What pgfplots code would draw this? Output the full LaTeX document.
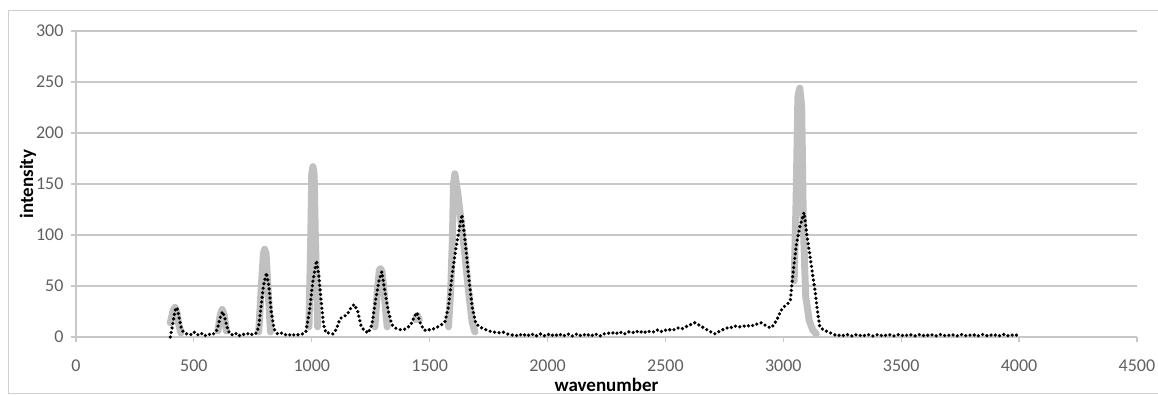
\documentclass[border=0pt]{standalone}
\usepackage{pgfplots}
\pgfplotsset{compat=1.18}
\usepackage{fontspec}
\setmainfont{Carlito}
\definecolor{gridgray}{HTML}{C8C8C8}
\definecolor{ticktext}{HTML}{606060}
\definecolor{peakgray}{HTML}{C0C0C0}
\definecolor{framegray}{HTML}{D0D0D0}
\begin{document}
\begin{tikzpicture}[x=1pt,y=1pt]
\useasboundingbox (0,0) rectangle (1158,-394);
\draw[framegray, line width=1pt] (8,-10) rectangle (1180,-393);
\begin{axis}[
  at={(76pt,-337pt)}, anchor=south west,
  scale only axis, width=1061pt, height=306pt,
  xmin=0, xmax=4500, ymin=0, ymax=300,
  xtick={0,500,...,4500}, ytick={0,50,...,300},
  axis lines=left, axis line style={-, gridgray, line width=1.2pt},
  tick align=outside, major tick length=5pt,
  tick style={gridgray, line width=1.2pt},
  ymajorgrids, grid style={gridgray, line width=1.4pt},
  /pgf/number format/assume math mode=true,
  /pgf/number format/1000 sep={},
  tick label style={font=\fontsize{18}{20}\selectfont, text=ticktext},
  xticklabel style={yshift=-14pt},
  yticklabel style={xshift=-4pt},
  xlabel={\textbf{wavenumber}}, ylabel={\textbf{intensity}},
  label style={font=\fontsize{19}{21}\selectfont},
  xlabel style={yshift=0pt},
  ylabel style={yshift=-7pt},
  clip=false,
  unbounded coords=jump,
]
\addplot[peakgray, line width=7pt, line cap=round, line join=round] coordinates {
(400,14) (412,26) (420,29) (428,24) (436,12) (445,4) (450,nan)
(602,6) (612,22) (620,27) (628,22) (638,6) (645,nan)
(775,5) (785,45) (795,82) (800,86) (806,82) (815,45) (825,5) (835,nan)
(988,10) (996,100) (1000,160) (1005,167) (1010,160) (1015,100) (1025,10) (1035,nan)
(1268,10) (1278,45) (1287,66) (1292,67) (1298,64) (1308,40) (1320,10) (1330,nan)
(1440,17) (1448,21) (1456,17) (1470,nan)
(1580,10) (1590,50) (1597,100) (1601,150) (1607,160) (1620,140) (1635,110) (1650,80) (1665,45) (1680,15) (1692,5) (1705,nan)
(3046,55) (3054,130) (3062,236) (3070,244) (3078,226) (3085,110) (3095,40) (3110,16) (3125,7) (3140,3)
};
\addplot[black, line width=3.6pt, line cap=round, dash pattern=on 0pt off 4.6pt] coordinates {
(400,0) (410,12) (420,26) (428,29) (435,22) (445,10) (455,5) (470,3) (485,2) (500,5)
(515,2) (530,4) (545,1) (560,3) (575,2) (590,4) (600,8) (610,18) (622,25) (632,18)
(645,6) (660,2) (675,4) (690,1) (705,3) (720,2) (735,4) (750,2) (765,4) (775,10)
(785,30) (795,50) (808,63) (818,50) (828,25) (840,8) (855,3) (870,4) (885,2) (900,3)
(915,1) (930,3) (945,2) (960,3) (975,5) (990,25) (1005,55) (1020,75) (1030,60) (1040,35)
(1050,12) (1060,4) (1075,4) (1090,3) (1105,8) (1120,18) (1135,20) (1150,22) (1165,28) (1180,32)
(1195,25) (1210,10) (1225,6) (1240,4) (1255,12) (1270,35) (1285,55) (1297,64) (1310,45) (1325,25)
(1340,12) (1360,8) (1380,7) (1400,8) (1420,12) (1435,20) (1446,24) (1460,14) (1475,7) (1490,6)
(1505,8) (1520,8) (1535,10) (1550,12) (1565,15) (1580,30) (1595,60) (1610,85) (1625,105) (1637,120)
(1650,95) (1665,60) (1680,30) (1695,14) (1710,10) (1730,8) (1750,6) (1770,5) (1790,4) (1810,5)
(1830,3) (1850,2) (1865,1) (1880,3) (1895,1) (1910,3) (1925,1) (1940,3) (1955,1) (1970,3)
(1985,1) (2000,3) (2015,1) (2030,3) (2045,1) (2060,3) (2075,1) (2090,3) (2105,1) (2120,3)
(2135,1) (2150,3) (2165,1) (2180,3) (2195,1) (2210,3) (2225,1) (2240,3) (2255,4) (2270,3)
(2285,5) (2300,3) (2315,5) (2330,3) (2345,5) (2360,4) (2375,6) (2390,4) (2405,6) (2420,4)
(2435,6) (2450,5) (2465,7) (2480,5) (2495,7) (2510,6) (2525,8) (2540,7) (2555,9) (2570,8)
(2585,10) (2600,11) (2612,13) (2625,14) (2640,12) (2655,10) (2670,8) (2685,6) (2700,4) (2712,3)
(2725,5) (2740,7) (2755,8) (2770,10) (2785,9) (2800,11) (2815,10) (2830,11) (2845,10) (2860,12)
(2875,11) (2890,13) (2905,14) (2920,12) (2935,10) (2948,9) (2960,12) (2975,18) (2990,26) (3005,30)
(3020,33) (3030,36) (3040,60) (3055,90) (3070,108) (3088,122) (3100,100) (3113,80) (3125,60) (3135,45)
(3145,25) (3155,10) (3170,7) (3190,5) (3210,3) (3230,1) (3245,2.5) (3260,1) (3275,2.5) (3290,1)
(3305,2.5) (3320,1) (3335,2.5) (3350,1) (3365,2.5) (3380,1) (3395,2.5) (3410,1) (3425,2.5) (3440,1)
(3455,2.5) (3470,1) (3485,2.5) (3500,1) (3515,2.5) (3530,1) (3545,2.5) (3560,1) (3575,2.5) (3590,1)
(3605,2.5) (3620,1) (3635,2.5) (3650,1) (3665,2.5) (3680,1) (3695,2.5) (3710,1) (3725,2.5) (3740,1)
(3755,2.5) (3770,1) (3785,2.5) (3800,1) (3815,2.5) (3830,1) (3845,2.5) (3860,1) (3875,2.5) (3890,1)
(3905,2.5) (3920,1) (3935,2.5) (3950,1) (3965,2.5) (3980,1) (3995,2.5) (4000,2)
};
\end{axis}
\end{tikzpicture}
\end{document}
